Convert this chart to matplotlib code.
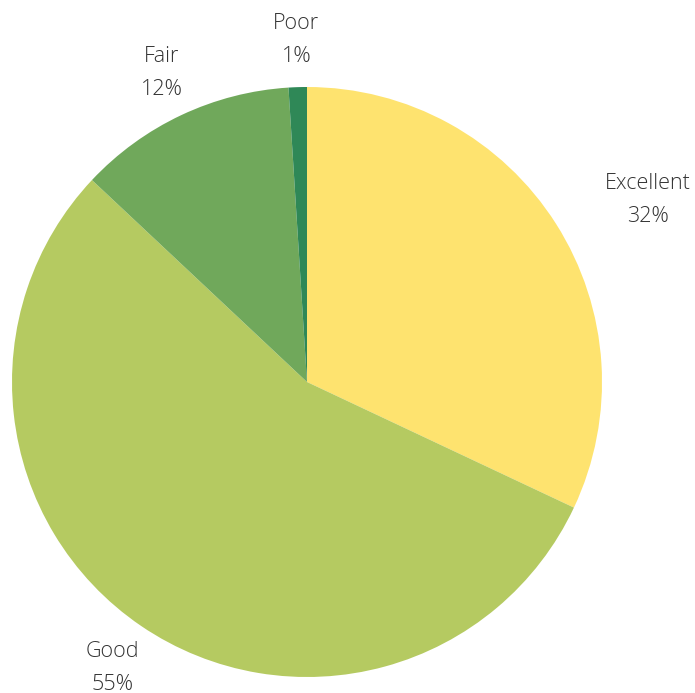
import numpy as np
import matplotlib
matplotlib.use("Agg")
import matplotlib.pyplot as plt

categories = ["Excellent", "Good", "Fair", "Poor"]
shares = [32, 55, 12, 1]
colors = ["#FEE36F", "#B5CA61", "#70A85B", "#2F8857"]
label_dist = [1.31, 1.172, 1.158, 1.16]
label_nudge = [-4.3, 0, 0, 0]  # degrees

fig = plt.figure(figsize=(6.95, 6.93), dpi=100)
ax = fig.add_axes([12 / 695, 16 / 693, 590 / 695, 590 / 693])

wedges, _ = ax.pie(shares, colors=colors, startangle=90, counterclock=False,
                   wedgeprops=dict(linewidth=0))

total = sum(shares)
for w, name, val, d, nd in zip(wedges, categories, shares, label_dist, label_nudge):
    mid = np.deg2rad((w.theta1 + w.theta2) / 2 + nd)
    ax.text(d * np.cos(mid), d * np.sin(mid), f"{name}\n{val / total:.0%}",
            ha="center", va="center", fontsize=15.5, family="Open Sans",
            fontweight="light", color="#333333", linespacing=1.75)

ax.set_xlim(-1, 1)
ax.set_ylim(-1, 1)
ax.axis("off")

fig.savefig("out.png", dpi=100)
